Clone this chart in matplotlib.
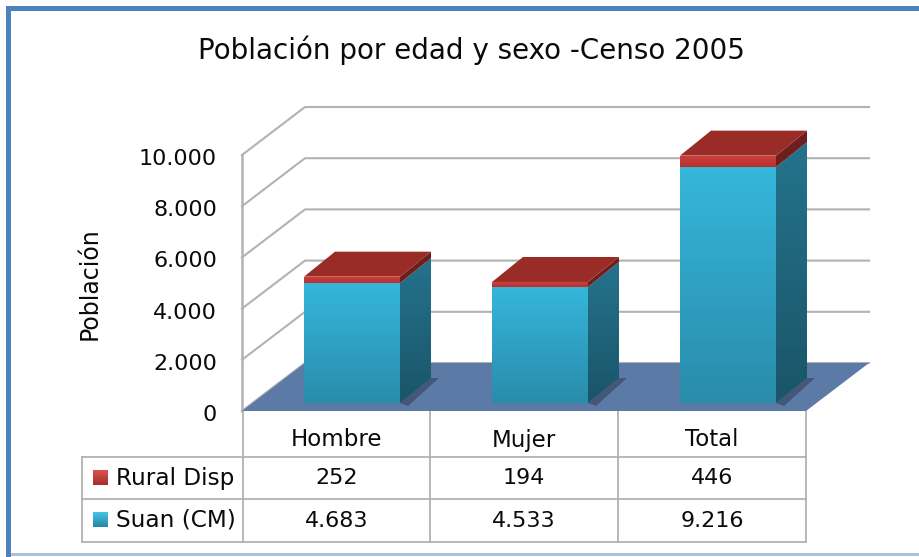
"""Stacked pseudo-3D census column chart with a data table underneath."""

import matplotlib

matplotlib.use("Agg")
import matplotlib.pyplot as plt  # noqa: E402
import numpy as np  # noqa: E402
from matplotlib.colors import LinearSegmentedColormap  # noqa: E402
from matplotlib.patches import Polygon, Rectangle  # noqa: E402
from matplotlib.transforms import ScaledTranslation  # noqa: E402

categories = ["Hombre", "Mujer", "Total"]
suan = [4683, 4533, 9216]
rural = [252, 194, 446]
series_names = ["Rural Disp", "Suan (CM)"]
y_ticks = [0, 2000, 4000, 6000, 8000, 10000]
title = "Población por edad y sexo -Censo 2005"
y_label = "Población"

FONT = 16
INK = "#0A0A0A"
GRID = "#B2B2B2"
FRAME = "#4F81BD"

# Conversion from screen pixels to data units on the main axes.
PX_X = 3 / 564
PX_Y = 10000 / 256
WALL = (63, 48)  # depth of the chart box, pixels
BAR_OFFSET = (16, 8)  # bar front face relative to the box front
BAR_DEPTH = (31, 25)
BAR_WIDTH = 96 * PX_X


def fmt(value):
    return f"{value:,}".replace(",", ".")


def shift(x, v, offset):
    return x + offset[0] * PX_X, v + offset[1] * PX_Y


def gradient_poly(ax, points, top, bottom, zorder):
    """Fill a polygon with a vertical gradient."""
    pts = np.array(points)
    poly = Polygon(pts, closed=True, fc="none", ec="none", zorder=zorder)
    ax.add_patch(poly)
    img = ax.imshow(
        np.linspace(0, 1, 64).reshape(-1, 1),
        cmap=LinearSegmentedColormap.from_list("g", [top, bottom]),
        aspect="auto",
        origin="upper",
        extent=(pts[:, 0].min(), pts[:, 0].max(), pts[:, 1].min(), pts[:, 1].max()),
        zorder=zorder,
    )
    img.set_clip_path(poly)
    img.set_clip_box(fig.bbox)


def draw_block(ax, x0, v0, v1, colors, zorder):
    """Draw the front and side faces of one stacked block."""
    x1 = x0 + BAR_WIDTH
    gradient_poly(ax, [(x0, v0), (x1, v0), (x1, v1), (x0, v1)], colors[0], colors[1], zorder)
    gradient_poly(
        ax,
        [(x1, v0), shift(x1, v0, BAR_DEPTH), shift(x1, v1, BAR_DEPTH), (x1, v1)],
        colors[2],
        colors[3],
        zorder,
    )


fig = plt.figure(figsize=(9.2, 5.57), dpi=100, facecolor="white")

# Pixel-space layer for the frame and the table.
bg = fig.add_axes([0, 0, 1, 1])
bg.axis("off")
bg.add_patch(Rectangle((6, 6), 914, 5, fc=FRAME, ec="none"))
bg.add_patch(Rectangle((6, 6), 5, 551, fc=FRAME, ec="none"))
bg.add_patch(Rectangle((11, 553), 909, 3, fc="#A9C1E3", ec="none"))
bg.text(471, 50, title, ha="center", va="center", fontsize=20, color=INK)
bg.text(90, 284, y_label, rotation=90, ha="center", va="center", fontsize=17, color=INK)

col_x = [243, 430, 618, 806]
row_y = [411, 457, 499, 542]
table_left = 82
for x in col_x:
    bg.plot([x, x], [row_y[0], row_y[-1]], color=GRID, lw=1.3)
bg.plot([table_left, table_left], [row_y[1], row_y[-1]], color=GRID, lw=1.3)
for y in row_y[1:]:
    bg.plot([table_left, col_x[-1]], [y, y], color=GRID, lw=1.3)

for i, name in enumerate(categories):
    cx = (col_x[i] + col_x[i + 1]) / 2
    bg.text(cx, 440, name, ha="center", va="center", fontsize=FONT + 0.5, color=INK)
    bg.text(cx, 478, fmt(rural[i]), ha="center", va="center", fontsize=FONT, color=INK)
    bg.text(cx, 521, fmt(suan[i]), ha="center", va="center", fontsize=FONT, color=INK)

key_colors = [("#D9514E", "#A52F2C"), ("#45C3E4", "#2788A6")]
for name, y, (c_top, c_bot) in zip(series_names, [478, 520], key_colors):
    bg.imshow(
        np.linspace(0, 1, 16).reshape(-1, 1),
        cmap=LinearSegmentedColormap.from_list("k", [c_top, c_bot]),
        extent=(93, 108, y + 7, y - 8),
        aspect="auto",
        zorder=3,
    )
    bg.text(116, y, name, ha="left", va="center", fontsize=FONT + 0.7, color=INK)
bg.set_xlim(0, 920)
bg.set_ylim(557, 0)

# Main axes: x in category units, y in population.
ax = fig.add_axes([242 / 920, (557 - 411) / 557, 564 / 920, 256 / 557])
ax.patch.set_visible(False)
for spine in ax.spines.values():
    spine.set_visible(False)
ax.set_xticks([])
ax.set_yticks(y_ticks, [fmt(t) for t in y_ticks])
ax.tick_params(axis="y", length=0, pad=18, labelsize=FONT, labelcolor=INK)
label_drop = ScaledTranslation(0, -2 / 100, fig.dpi_scale_trans)
for label in ax.get_yticklabels():
    label.set_transform(label.get_transform() + label_drop)

n = len(categories)
for t in y_ticks:
    bx, by = shift(0, t, WALL)
    ax.plot([0, bx, bx + n], [t, by, by], color=GRID, lw=1.5, clip_on=False, zorder=1)
ax.plot([0, 0], [0, y_ticks[-1]], color=GRID, lw=1.8, clip_on=False, zorder=1)

# Floor of the box.
floor_pts = [(0, 0), (n, 0), shift(n, 0, WALL), shift(0, 0, WALL)]
ax.add_patch(Polygon(floor_pts, closed=True, fc="#5B7BA6", ec="none", zorder=2, clip_on=False))

for i in range(n):
    x0 = i + 0.5 - BAR_WIDTH / 2 + BAR_OFFSET[0] * PX_X
    base = BAR_OFFSET[1] * PX_Y
    v_mid = base + suan[i]
    v_top = v_mid + rural[i]
    x1 = x0 + BAR_WIDTH

    # Soft shadow on the floor, right of the side face.
    back = shift(x1, base, BAR_DEPTH)
    shadow = [(x1, base), back, shift(back[0], back[1], (8, 0)), shift(x1, base, (8, -3))]
    ax.add_patch(Polygon(shadow, closed=True, fc="#3F4F6E", ec="none", alpha=0.8, zorder=2.5, clip_on=False))

    draw_block(ax, x0, base, v_mid, ("#35B6DB", "#2A8CAB", "#24738D", "#1A5568"), 3)
    draw_block(ax, x0, v_mid, v_top, ("#D0403D", "#B5302E", "#6E1F1C", "#6E1F1C"), 4)
    top_pts = [(x0, v_top), (x1, v_top), shift(x1, v_top, BAR_DEPTH), shift(x0, v_top, BAR_DEPTH)]
    ax.add_patch(Polygon(top_pts, closed=True, fc="#9A2C28", ec="none", zorder=5, clip_on=False))

ax.set_xlim(0, n)
ax.set_ylim(0, y_ticks[-1])

fig.savefig("out.png", dpi=100, facecolor="white")
